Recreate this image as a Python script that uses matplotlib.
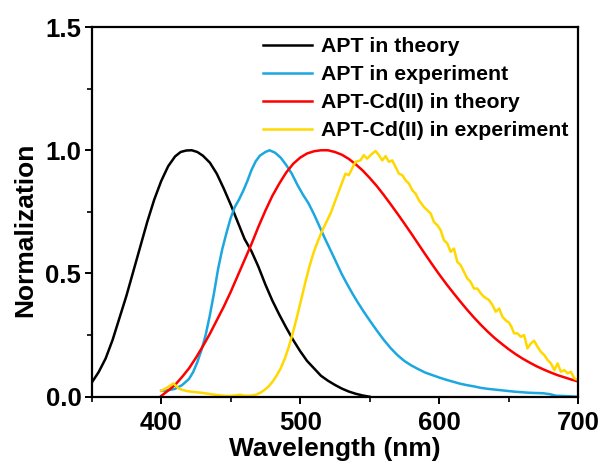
import matplotlib
matplotlib.use("Agg")
import matplotlib.pyplot as plt
from matplotlib.ticker import MultipleLocator

plt.rcParams['font.family'] = ['Liberation Sans', 'DejaVu Sans']
plt.rcParams['font.weight'] = 'bold'

# ---- data ----
x_apt_theory = [350, 355, 360, 365, 370, 375, 380, 385, 390, 395, 400, 405, 410, 414,
                418, 422, 426, 430, 435, 440, 445, 450, 455, 460, 465, 470, 475, 480, 485,
                490, 495, 500, 505, 510, 515, 520, 525, 530, 535, 540, 545, 550]
y_apt_theory = [0.057, 0.10, 0.155, 0.23, 0.32, 0.41, 0.51, 0.61, 0.71, 0.80, 0.875, 0.935,
                0.975, 0.993, 0.999, 1.0, 0.993, 0.978, 0.95, 0.905, 0.845, 0.78, 0.71, 0.64,
                0.59, 0.527, 0.455, 0.39, 0.333, 0.28, 0.23, 0.185, 0.145, 0.115, 0.085,
                0.065, 0.048, 0.033, 0.021, 0.012, 0.005, 0.0]

x_apt_exp = [400, 405, 410, 415, 420, 423, 426, 429, 432, 435, 438, 441, 444, 447, 450,
             453, 456, 459, 462, 465, 468, 471, 475, 478, 482, 486, 490, 494, 498, 502,
             506, 510, 514, 518, 522, 526, 530, 534, 538, 542, 546, 550, 555, 560, 565,
             570, 575, 580, 585, 590, 595, 600, 605, 610, 615, 620, 625, 630, 635, 640,
             645, 650, 655, 660, 665, 670, 675, 680, 684, 690, 700]
y_apt_exp = [0.024, 0.026, 0.032, 0.047, 0.072, 0.10, 0.14, 0.19, 0.25, 0.33, 0.42, 0.52,
             0.60, 0.665, 0.725, 0.77, 0.80, 0.835, 0.875, 0.92, 0.955, 0.978, 0.993, 1.0,
             0.99, 0.97, 0.94, 0.905, 0.86, 0.82, 0.785, 0.74, 0.69, 0.64, 0.593, 0.545,
             0.497, 0.455, 0.415, 0.378, 0.343, 0.31, 0.27, 0.232, 0.198, 0.169, 0.145,
             0.127, 0.112, 0.098, 0.088, 0.078, 0.069, 0.061, 0.053, 0.047, 0.042, 0.036,
             0.032, 0.029, 0.026, 0.023, 0.020, 0.018, 0.016, 0.015, 0.014, 0.010, 0.004,
             0.003, 0.0]

x_cd_theory = [400, 405, 410, 415, 420, 425, 430, 435, 440, 445, 450, 455, 460, 465, 470,
               475, 480, 485, 490, 495, 500, 505, 510, 515, 520, 525, 530, 535, 540, 545,
               550, 555, 560, 565, 570, 575, 580, 585, 590, 595, 600, 605, 610, 615, 620,
               625, 630, 635, 640, 645, 650, 655, 660, 665, 670, 675, 680, 685, 690, 695, 700]
y_cd_theory = [0.003, 0.025, 0.048, 0.08, 0.115, 0.158, 0.205, 0.255, 0.31, 0.365, 0.425,
               0.49, 0.555, 0.62, 0.69, 0.755, 0.815, 0.865, 0.91, 0.945, 0.97, 0.987, 0.996,
               1.0, 1.0, 0.993, 0.982, 0.965, 0.943, 0.918, 0.888, 0.856, 0.82, 0.782, 0.743,
               0.703, 0.662, 0.62, 0.578, 0.537, 0.497, 0.459, 0.423, 0.388, 0.354, 0.322,
               0.292, 0.264, 0.238, 0.215, 0.193, 0.173, 0.155, 0.139, 0.124, 0.111, 0.099,
               0.088, 0.079, 0.07, 0.062]

x_cd_exp = [400, 402, 404, 406.5, 408.8, 410.5, 412.4, 415, 418.4, 422, 425.7, 429, 432.9,
            436, 440, 445, 449.7, 453, 456.9, 460, 464.1, 468, 471.3, 474, 477, 480, 483,
            486, 489, 492, 495, 498, 501, 504, 507, 510, 513, 516, 519, 522, 525.4, 529,
            532.6, 535, 537.4, 539.8, 543.4, 545.8, 548.2, 551.8, 554.3, 556.7, 559.1,
            561.5, 563.9, 566.3, 568.7, 571.1, 573.5, 575.9, 578.3, 580.7, 583.1, 585.5,
            589.1, 592.7, 594, 596.3, 598.7, 601.1, 603.5, 605.9, 608.3, 610.7, 613.1,
            615.5, 617.9, 620.3, 622.7, 625.1, 627.6, 630, 632.4, 636, 638.4, 640.8,
            643.2, 645.6, 648, 650.4, 652, 654, 656.4, 658.8, 661.2, 663.6, 666, 668.4,
            670.8, 673.3, 675.7, 678.1, 680.5, 682.9, 685.3, 687.7, 690.1, 692.5, 694.9,
            697.3, 700]
y_cd_exp = [0.024, 0.03, 0.036, 0.045, 0.054, 0.045, 0.034, 0.028, 0.023, 0.02, 0.018,
            0.016, 0.013, 0.01, 0.007, 0.004, 0.003, 0.005, 0.008, 0.004, 0.004, 0.008,
            0.016, 0.026, 0.04, 0.06, 0.085, 0.115, 0.155, 0.205, 0.265, 0.33, 0.40, 0.47,
            0.535, 0.59, 0.635, 0.675, 0.71, 0.745, 0.797, 0.851, 0.905, 0.899, 0.926,
            0.953, 0.959, 0.98, 0.966, 0.986, 0.997, 0.98, 0.959, 0.976, 0.953, 0.959,
            0.932, 0.905, 0.899, 0.878, 0.865, 0.838, 0.824, 0.797, 0.77, 0.75, 0.743,
            0.709, 0.696, 0.676, 0.635, 0.622, 0.588, 0.601, 0.547, 0.534, 0.507, 0.48,
            0.466, 0.439, 0.439, 0.419, 0.405, 0.392, 0.372, 0.345, 0.358, 0.324, 0.31,
            0.30, 0.284, 0.257, 0.257, 0.243, 0.25, 0.196, 0.216, 0.227, 0.203, 0.182,
            0.169, 0.149, 0.135, 0.108, 0.135, 0.101, 0.108, 0.095, 0.101, 0.074, 0.068]

labels = ['APT in theory', 'APT in experiment', 'APT-Cd(II) in theory',
          'APT-Cd(II) in experiment']
colors = ['#000000', '#1CA7E0', '#FF0000', '#FFD800']

fig = plt.figure(figsize=(6.03, 4.67), dpi=100)
ax = fig.add_axes([0.1521, 0.1505, 0.8065, 0.7916])

series = [(x_apt_theory, y_apt_theory), (x_apt_exp, y_apt_exp),
          (x_cd_theory, y_cd_theory), (x_cd_exp, y_cd_exp)]
for (xs, ys), lab, c in zip(series, labels, colors):
    ax.plot(xs, ys, color=c, lw=1.8, label=lab, solid_joinstyle='round')

ax.set_xlim(350, 700)
ax.set_ylim(0, 1.5)
ax.xaxis.set_minor_locator(MultipleLocator(50))
ax.yaxis.set_major_locator(MultipleLocator(0.5))
ax.yaxis.set_minor_locator(MultipleLocator(0.25))
ax.set_xticks([400, 500, 600, 700])

for s in ax.spines.values():
    s.set_linewidth(1.6)
ax.tick_params(which='major', direction='out', length=5, width=1.4, labelsize=18.5)
ax.tick_params(axis='x', which='major', pad=5)
ax.tick_params(axis='y', which='major', pad=2.5)
ax.tick_params(which='minor', direction='out', length=3.5, width=1.2)
for lbl in ax.get_xticklabels() + ax.get_yticklabels():
    lbl.set_fontweight('bold')

ax.set_xlabel('Wavelength (nm)', fontsize=19, fontweight='bold')
ax.set_ylabel('Normalization', fontsize=19, fontweight='bold')
ax.yaxis.set_label_coords(-0.111, 0.451)
ax.xaxis.set_label_coords(0.5, -0.108)
ax.xaxis.label.set_verticalalignment('top')

leg = ax.legend(loc='upper left', bbox_to_anchor=(0.352, 0.973), frameon=False,
                prop={'size': 15.3, 'weight': 'bold'}, handlelength=2.3, handletextpad=0.45,
                labelspacing=0.43, borderpad=0, borderaxespad=0)

fig.savefig('out.png', dpi=100)
